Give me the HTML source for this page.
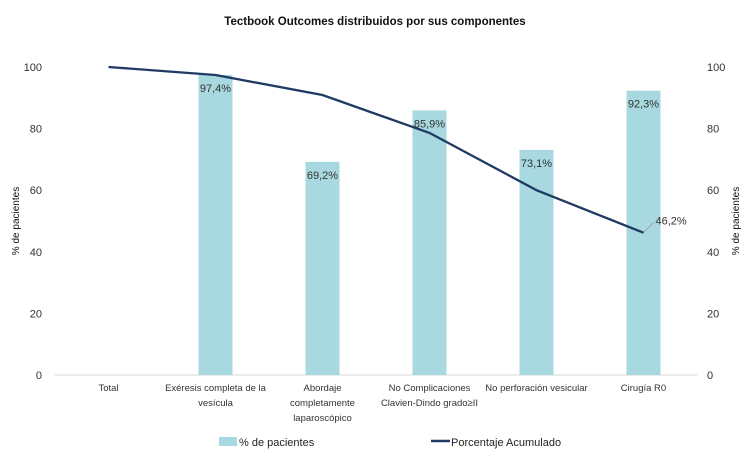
<!DOCTYPE html>
<html><head><meta charset="utf-8"><style>
body{margin:0;background:#fff;}
svg{display:block;font-family:"Liberation Sans",sans-serif;}
</style></head><body>
<svg id="chart" width="750" height="462" xmlns="http://www.w3.org/2000/svg">
<text x="375" y="25" text-anchor="middle" font-size="11.5" font-weight="bold" fill="#111">Tectbook Outcomes distribuidos por sus componentes</text>
<text transform="translate(19,221) rotate(-90)" text-anchor="middle" font-size="10" fill="#111">% de pacientes</text>
<text transform="translate(739,221) rotate(-90)" text-anchor="middle" font-size="10" fill="#111">% de pacientes</text>
<g id="grid"></g><g id="bars"></g><g id="line"></g><g id="labels"></g>
<g>
<rect x="219" y="437" width="18" height="9" fill="#a8d8e0"/>
<text x="239" y="446" font-size="11" fill="#222">% de pacientes</text>
<line x1="431" y1="441" x2="450" y2="441" stroke="#1f3b63" stroke-width="2.5"/>
<text x="451" y="446" font-size="11" fill="#222">Porcentaje Acumulado</text>
</g>
</svg>
<script>
const categories=[["Total"],["Exéresis completa de la","vesícula"],["Abordaje","completamente","laparoscópico"],["No Complicaciones","Clavien-Dindo grado≥II"],["No perforación vesicular"],["Cirugía R0"]];
const barValues=[null,97.4,69.2,85.9,73.1,92.3];
const lineValues=[100,97.4,90.9,78.6,60,46.2];
const ticks=[0,20,40,60,80,100];
const NS="http://www.w3.org/2000/svg";
const x0=55,x1=697,yTop=67,yBot=375;
const band=(x1-x0)/categories.length;
const xs=i=>x0+band*(i+0.5);
const ys=v=>yBot-(v/100)*(yBot-yTop);
function mk(tag,attrs,parent,txt){const e=document.createElementNS(NS,tag);for(const k in attrs)e.setAttribute(k,attrs[k]);if(txt!=null)e.textContent=txt;parent.appendChild(e);return e;}
const g=document.getElementById('grid'),b=document.getElementById('bars'),l=document.getElementById('line'),lb=document.getElementById('labels');
ticks.forEach(t=>{
 const a=mk('text',{x:42,y:ys(t)+4,'text-anchor':'end','font-size':11,fill:'#333'},g,t);
 
 
 const c=mk('text',{x:707,y:ys(t)+4,'font-size':11,fill:'#333'},g,t);
 
 
});
const ax=mk('line',{x1:x0,x2:x1,y1:yBot,y2:yBot,stroke:'#d9d9d9','stroke-width':1},g);


categories.forEach((c,i)=>{
 c.forEach((ln,j)=>{
  const t=mk('text',{x:xs(i),y:391+j*15,'text-anchor':'middle','font-size':9.5,fill:'#333'},g,ln);
  
  
 });
});
const bw=34;
barValues.forEach((v,i)=>{
 if(v==null)return;
 const r=mk('rect',{x:xs(i)-bw/2,y:ys(v),width:bw,height:yBot-ys(v),fill:'#a8d8e0'},b);
 
 
 const t=mk('text',{x:xs(i),y:ys(v)+17,'text-anchor':'middle','font-size':11,fill:'#333'},lb,v.toFixed(1).replace('.',',')+'%');
 
 
});
const p=mk('polyline',{points:lineValues.map((v,i)=>xs(i)+','+ys(v)).join(' '),fill:'none',stroke:'#1f3b63','stroke-width':2.3},l);


const last=lineValues.length-1;
const ll=mk('line',{x1:xs(last),y1:ys(lineValues[last]),x2:xs(last)+10,y2:ys(lineValues[last])-10,stroke:'#999','stroke-width':0.8},lb);


const lt=mk('text',{x:xs(last)+12,y:ys(lineValues[last])-8,'font-size':11,fill:'#333'},lb,lineValues[last].toFixed(1).replace('.',',')+'%');


</script>
</body></html>
